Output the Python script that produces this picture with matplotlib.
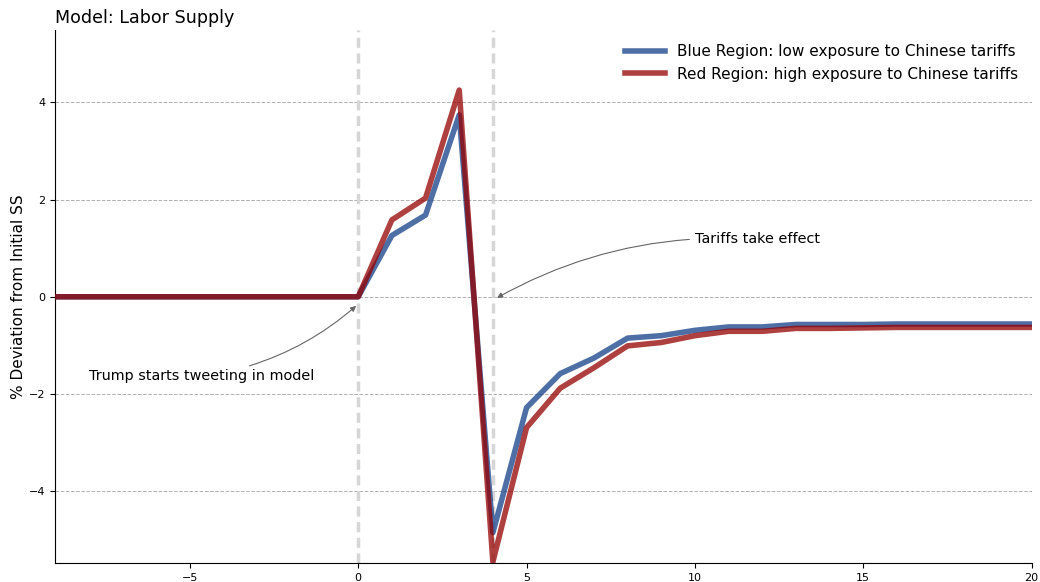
import matplotlib
matplotlib.use("Agg")
import matplotlib.pyplot as plt
import numpy as np

periods = list(range(-9, 21))
blue_pre = [0.0] * 9
blue_post = [0.0, 1.26, 1.68, 3.74, -4.85, -2.28, -1.58, -1.26, -0.85, -0.80,
             -0.69, -0.62, -0.62, -0.57, -0.57, -0.57, -0.56, -0.56, -0.56, -0.56, -0.56]
red_pre = [0.0] * 9
red_post = [0.0, 1.58, 2.03, 4.25, -5.45, -2.69, -1.88, -1.46, -1.01, -0.94,
            -0.80, -0.71, -0.71, -0.65, -0.65, -0.64, -0.63, -0.63, -0.63, -0.63, -0.63]
blue_vals = blue_pre + blue_post
red_vals = red_pre + red_post

blue_label = "Blue Region: low exposure to Chinese tariffs"
red_label = "Red Region: high exposure to Chinese tariffs"
event_x = [0, 4]

fig = plt.figure(figsize=(10.4, 5.82), dpi=100)
ax = fig.add_axes([0.053, 0.033, 0.939, 0.915])

for ex in event_x:
    ax.axvline(ex, color="#d6d6d6", lw=2.5, linestyle=(0, (2.9, 1.6)), zorder=1)

ax.plot(periods, blue_vals, color="#133f88", alpha=0.75, lw=4, label=blue_label, zorder=3)
ax.plot(periods, red_vals, color="#940000", alpha=0.75, lw=4, label=red_label, zorder=4)

ax.set_xlim(-9, 20)
ax.set_ylim(-5.47, 5.48)
ax.set_xticks([-5, 0, 5, 10, 15, 20])
ax.set_yticks([-4, -2, 0, 2, 4])
ax.tick_params(labelsize=8)
ax.yaxis.grid(True, linestyle="--", color="#b0b0b0", lw=0.7)
ax.set_axisbelow(True)
for s in ["top", "right"]:
    ax.spines[s].set_visible(False)

ax.set_ylabel("% Deviation from Initial SS", fontsize=11, labelpad=2)
ax.set_title("Model: Labor Supply", loc="left", fontsize=12.6, pad=5)

ax.annotate("Trump starts tweeting in model", xy=(0, -0.15), xytext=(-7.98, -1.72),
            fontsize=10.4, ha="left", va="baseline",
            arrowprops=dict(arrowstyle="-|>", color="#666666", lw=0.8,
                            connectionstyle="arc3,rad=0.15", mutation_scale=8))
ax.annotate("Tariffs take effect", xy=(4.05, -0.05), xytext=(10.0, 1.1),
            fontsize=10.4, ha="left", va="baseline",
            arrowprops=dict(arrowstyle="-|>", color="#666666", lw=0.8,
                            connectionstyle="arc3,rad=0.15", mutation_scale=8))

leg = ax.legend(loc="upper right", fontsize=11, frameon=False, handlelength=2.6)
for line in leg.get_lines():
    line.set_linewidth(4)

fig.savefig("out.png", dpi=100)
